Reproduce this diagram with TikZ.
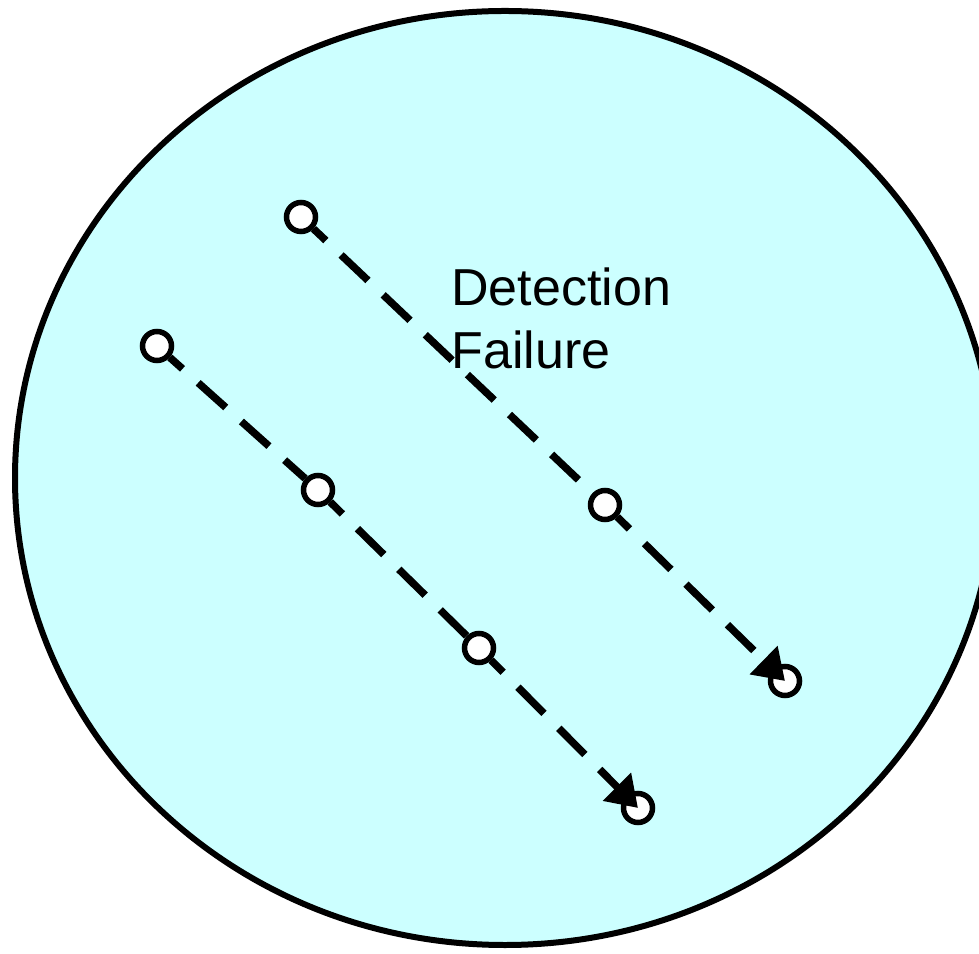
\documentclass[tikz,border=0pt]{standalone}
\usepackage{fontspec}
\setmainfont{Liberation Sans}
\usetikzlibrary{arrows.meta}
\definecolor{paleblue}{HTML}{CCFFFF}
\begin{document}
\begin{tikzpicture}[x=0.02cm,y=0.02cm,
  pt/.style={circle,draw,fill=white,line width=0.11cm,inner sep=0pt,minimum size=0.58cm},
  move/.style={line width=0.15cm,dash pattern=on 0.74cm off 0.42cm,dash phase=0.4cm},
  movetip/.style={move,-{Triangle[length=0.6cm,width=0.76cm]}}]
\useasboundingbox (0,0) rectangle (979,953);
\clip (0,0) rectangle (979,953);
\draw[fill=paleblue,line width=0.12cm] (505,475) ellipse [x radius=490,y radius=467];

\node[font=\fontsize{29.6}{36}\selectfont,align=left,anchor=north west,inner sep=0pt]
  (lab) at (451,686) {Detection\\Failure};

% upper track
\node[pt] (u1) at (301,736) {};
\node[pt] (u2) at (605,448) {};
\node[pt] (u3) at (785,272) {};
% lower track
\foreach \n/\x/\y in {1/157/607,2/318/463,3/479/305,4/638/145}
  \node[pt] (l\n) at (\x,\y) {};

\draw[move] (u1) -- (u2);
\draw[movetip] (u2) -- (u3.center);
\draw[move] (l1) -- (l2);
\draw[move] (l2) -- (l3);
\draw[movetip] (l3) -- (l4.center);
\end{tikzpicture}
\end{document}
